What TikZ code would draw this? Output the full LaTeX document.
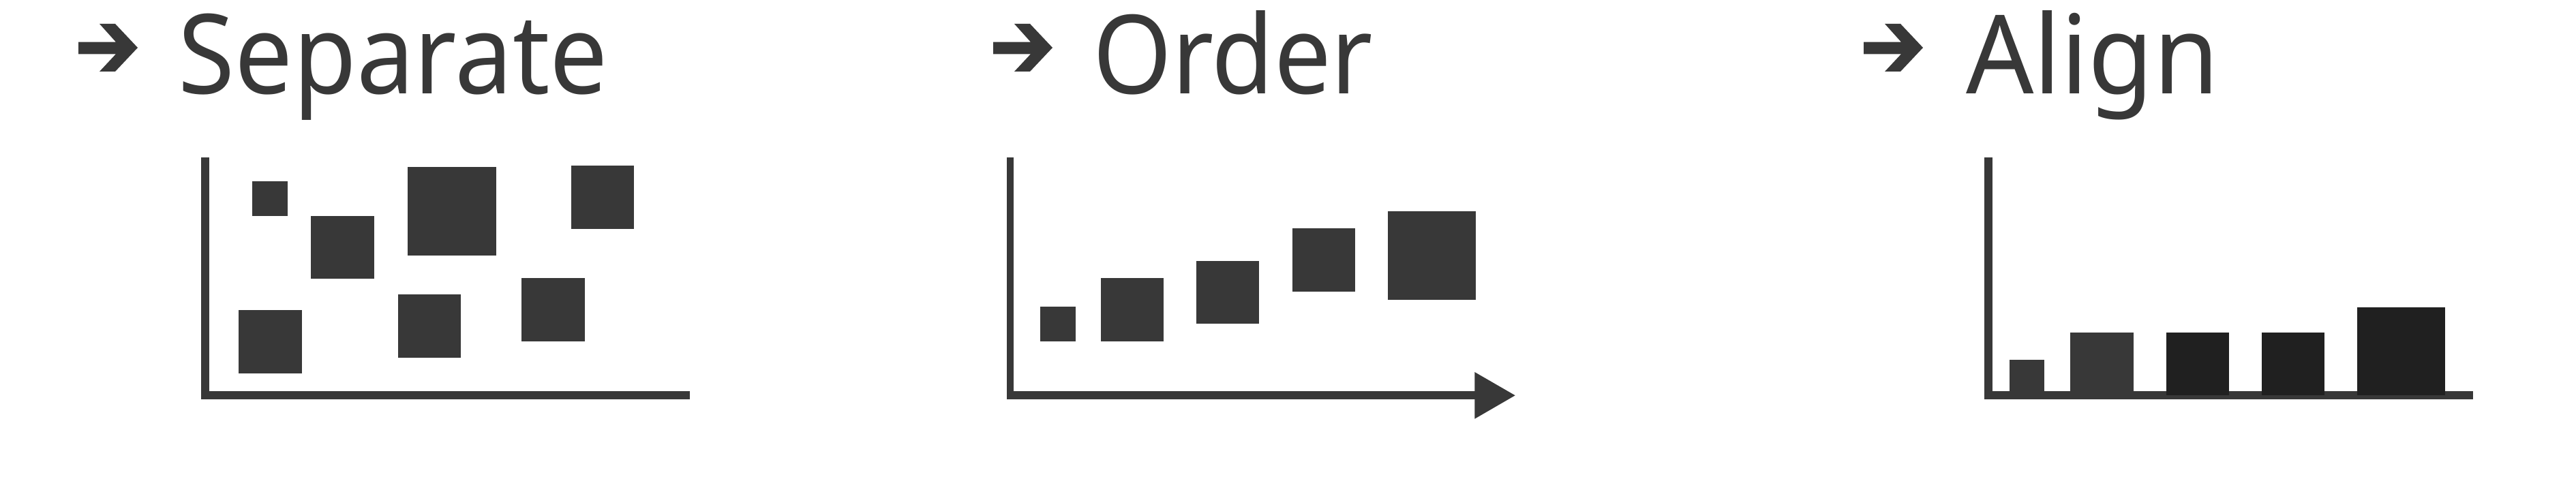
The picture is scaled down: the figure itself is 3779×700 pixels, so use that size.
\documentclass[tikz,border=0pt]{standalone}
\usepackage{fontspec}
\usepackage{graphicx}
\setmainfont{Noto Sans}
\definecolor{ink}{RGB}{56,56,56}
\definecolor{inkdark}{RGB}{32,32,32}
\tikzset{
  titlearrow/.pic={\fill[ink] (0,26.7) -- (55,26.7) -- (31,0) -- (54,0) -- (87,35) -- (54,70) -- (31,70) -- (55,44.3) -- (0,44.3) -- cycle;},
  titletext/.style={anchor=base west, inner sep=0pt, outer sep=0pt, text=ink},
  datamark/.style={fill=ink},
}
\begin{document}
\begin{tikzpicture}[x=0.1pt,y=-0.1pt]
\useasboundingbox (0,0) rectangle (3779,700);
% ---------- Separate ----------
\pic at (115,35) {titlearrow};
\node[titletext] (tsep) at (262,137.5) {\resizebox{63.0pt}{11.75pt}{Separate}};
\fill[ink] (295,231) rectangle (306.7,586.3);
\fill[ink] (295,574.3) rectangle (1012.3,586.3);
\fill[datamark] (370.4,265.6) rectangle (422.3,317);
\fill[datamark] (456,317) rectangle (548.6,409.4);
\fill[datamark] (597.7,245.5) rectangle (727.5,375);
\fill[datamark] (837.6,243.3) rectangle (930.2,335.7);
\fill[datamark] (350,455) rectangle (442.7,547.8);
\fill[datamark] (583.7,432.1) rectangle (676.3,524.6);
\fill[datamark] (765.3,408.5) rectangle (858,500.9);
% ---------- Order ----------
\pic at (1457,35) {titlearrow};
\node[titletext] (tord) at (1603,137.5) {\resizebox{41.1pt}{12.2pt}{Order}};
\fill[ink] (1476.9,231) rectangle (1487.1,586.3);
\fill[ink] (1476.9,574.3) rectangle (2163.5,586.3);
\fill[ink] (2163.3,546) -- (2222.7,580.3) -- (2163.3,614.7) -- cycle;
\fill[datamark] (1526,449.6) rectangle (1577.7,500.9);
\fill[datamark] (1615.3,408.5) rectangle (1707.1,500.9);
\fill[datamark] (1755,383) rectangle (1847.4,475.4);
\fill[datamark] (1895.9,335.3) rectangle (1987.8,428.1);
\fill[datamark] (2036.2,310.3) rectangle (2165,439.7);
% ---------- Align ----------
\pic at (2734,35) {titlearrow};
\node[titletext] (tali) at (2884,137.5) {\resizebox{37.2pt}{12.2pt}{Align}};
\fill[ink] (2911,231) rectangle (2922.7,586);
\fill[ink] (2911,574.3) rectangle (3628.3,586);
\fill[ink] (2947.7,528.3) rectangle (2999.3,574.3);
\fill[ink] (3036.7,487.7) rectangle (3129.5,574.3);
\fill[inkdark] (3177.8,488) rectangle (3270,580.4);
\fill[inkdark] (3318.2,488) rectangle (3410.4,580.4);
\fill[inkdark] (3457.7,450.7) rectangle (3587.3,580.4);
\end{tikzpicture}
\end{document}
